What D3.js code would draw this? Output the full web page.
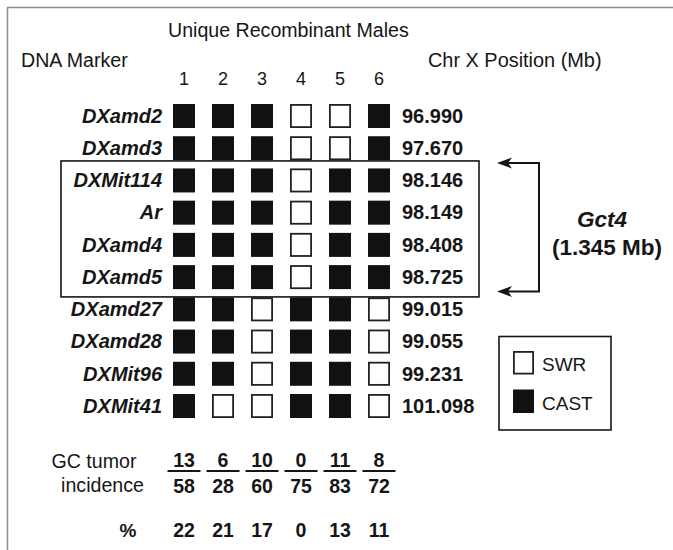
<!DOCTYPE html>
<html>
<head>
<meta charset="utf-8">
<script src="https://cdn.jsdelivr.net/npm/d3@7/dist/d3.min.js"></script>
<style>
  html, body { margin: 0; padding: 0; background: #fff; }
  svg { display: block; font-family: "Liberation Sans", Arial, Helvetica, sans-serif; }
</style>
</head>
<body>
<svg id="chart" width="673" height="550"></svg>
<script>
// ---------------- data ----------------
const males = ["1", "2", "3", "4", "5", "6"];
const markers = ["DXamd2", "DXamd3", "DXMit114", "Ar", "DXamd4", "DXamd5",
                 "DXamd27", "DXamd28", "DXMit96", "DXMit41"];
const positions = ["96.990", "97.670", "98.146", "98.149", "98.408", "98.725",
                   "99.015", "99.055", "99.231", "101.098"];
// 1 = CAST (filled), 0 = SWR (open); one row per marker, one value per male
const genotypes = [
  [1, 1, 1, 0, 0, 1],
  [1, 1, 1, 0, 0, 1],
  [1, 1, 1, 0, 1, 1],
  [1, 1, 1, 0, 1, 1],
  [1, 1, 1, 0, 1, 1],
  [1, 1, 1, 0, 1, 1],
  [1, 1, 0, 1, 1, 0],
  [1, 1, 0, 1, 1, 0],
  [1, 1, 0, 1, 1, 0],
  [1, 0, 0, 1, 1, 0]
];
const tumors = [13, 6, 10, 0, 11, 8];
const totals = [58, 28, 60, 75, 83, 72];
const percents = [22, 21, 17, 0, 13, 11];
const legendItems = [{label: "SWR", value: 0}, {label: "CAST", value: 1}];
const intervalMarkers = ["DXMit114", "DXamd5"];
const intervalLabel = "Gct4";
const intervalSize = "(1.345 Mb)";

// ---------------- layout ----------------
const svg = d3.select("#chart");
const ink = "#161616";
const x = d3.scalePoint().domain(males).range([184, 379]);
const y = d3.scalePoint().domain(markers).range([116, 406]);
const cellW = 22, cellH = 24;

// outer frame (top and left edges visible)
svg.append("path")
  .attr("d", "M7.5,550 V7.5 H673")
  .attr("fill", "none").attr("stroke", "#8c8c8c").attr("stroke-width", 1.5);

// headers
svg.append("text").attr("x", 168).attr("y", 36.5)
  .attr("font-size", 19.6).attr("fill", ink).text("Unique Recombinant Males");
svg.append("text").attr("x", 21).attr("y", 66.5)
  .attr("font-size", 19.6).attr("fill", ink).text("DNA Marker");
svg.append("text").attr("x", 428).attr("y", 66.5)
  .attr("font-size", 19.9).attr("fill", ink).text("Chr X Position (Mb)");

// column numbers
svg.append("g").selectAll("text").data(males).join("text")
  .attr("x", d => x(d)).attr("y", 84.5)
  .attr("text-anchor", "middle").attr("font-size", 18).attr("fill", ink)
  .text(d => d);

// marker labels
svg.append("g").selectAll("text").data(markers).join("text")
  .attr("x", 162).attr("y", d => y(d) + 6.8)
  .attr("text-anchor", "end").attr("font-size", 20)
  .attr("font-weight", "bold").attr("font-style", "italic").attr("fill", ink)
  .text(d => d);

// positions
svg.append("g").selectAll("text").data(positions).join("text")
  .attr("x", 402).attr("y", (d, i) => y(markers[i]) + 6.8)
  .attr("font-size", 20).attr("font-weight", "bold").attr("fill", ink)
  .text(d => d);

// genotype cells
const cells = [];
genotypes.forEach((row, i) => row.forEach((v, j) => cells.push({m: markers[i], c: males[j], v})));
svg.append("g").selectAll("rect").data(cells).join("rect")
  .attr("x", d => x(d.c) - cellW / 2 + (d.v ? 0 : 0.9))
  .attr("y", d => y(d.m) - cellH / 2 + (d.v ? 0 : 0.9))
  .attr("width", d => d.v ? cellW : cellW - 1.8)
  .attr("height", d => d.v ? cellH : cellH - 1.8)
  .attr("fill", d => d.v ? "#111" : "#fff")
  .attr("stroke", d => d.v ? "none" : "#222")
  .attr("stroke-width", 1.8);

// interval box
const boxTop = y(intervalMarkers[0]) - 19.5;
const boxBot = y(intervalMarkers[1]) + 19.8;
svg.append("rect")
  .attr("x", 61).attr("y", boxTop).attr("width", 418).attr("height", boxBot - boxTop)
  .attr("fill", "none").attr("stroke", ink).attr("stroke-width", 1.6);

// bracket with arrows
const bTop = boxTop + 2, bBot = boxBot - 5.5, bx = 539, tipX = 497;
svg.append("path")
  .attr("d", `M${tipX + 8},${bTop} H${bx} V${bBot} H${tipX + 8}`)
  .attr("fill", "none").attr("stroke", ink).attr("stroke-width", 2);
[bTop, bBot].forEach(yy => {
  svg.append("path")
    .attr("d", `M${tipX},${yy} L${tipX + 15},${yy - 5.5} L${tipX + 11},${yy} L${tipX + 15},${yy + 5.5} Z`)
    .attr("fill", ink);
});

svg.append("text").attr("x", 602).attr("y", 227)
  .attr("text-anchor", "middle").attr("font-size", 22.5)
  .attr("font-weight", "bold").attr("font-style", "italic").attr("fill", ink)
  .text(intervalLabel);
svg.append("text").attr("x", 607).attr("y", 254.5)
  .attr("text-anchor", "middle").attr("font-size", 22.5)
  .attr("font-weight", "bold").attr("fill", ink)
  .text(intervalSize);

// legend
svg.append("rect").attr("x", 499).attr("y", 336.5).attr("width", 112).attr("height", 93.5)
  .attr("fill", "none").attr("stroke", ink).attr("stroke-width", 1.6);
const lg = svg.append("g").selectAll("g").data(legendItems).join("g")
  .attr("transform", (d, i) => `translate(513, ${351 + i * 38.5})`);
lg.append("rect")
  .attr("x", d => d.value ? 0 : 0.9).attr("y", d => d.value ? 0 : 0.9)
  .attr("width", d => d.value ? 21 : 19.2).attr("height", d => d.value ? 23.5 : 21.7)
  .attr("fill", d => d.value ? "#111" : "#fff")
  .attr("stroke", d => d.value ? "none" : "#222").attr("stroke-width", 1.8);
lg.append("text").attr("x", 29).attr("y", 20)
  .attr("font-size", 19).attr("fill", ink).text(d => d.label);

// tumor incidence
svg.append("text").attr("x", 94).attr("y", 468).attr("text-anchor", "middle")
  .attr("font-size", 19.6).attr("fill", ink).text("GC tumor");
svg.append("text").attr("x", 102.5).attr("y", 492).attr("text-anchor", "middle")
  .attr("font-size", 19.6).attr("fill", ink).text("incidence");
svg.append("text").attr("x", 128).attr("y", 536.5).attr("text-anchor", "middle")
  .attr("font-size", 19).attr("font-weight", "bold").attr("fill", ink).text("%");

const inc = svg.append("g").selectAll("g").data(males).join("g")
  .attr("transform", d => `translate(${x(d)},0)`);
inc.append("text").attr("y", 466.5).attr("text-anchor", "middle")
  .attr("font-size", 19.5).attr("font-weight", "bold").attr("fill", ink)
  .text((d, i) => tumors[i]);
inc.append("line").attr("x1", -16.5).attr("x2", 16.5).attr("y1", 471).attr("y2", 471)
  .attr("stroke", ink).attr("stroke-width", 2);
inc.append("text").attr("y", 492.5).attr("text-anchor", "middle")
  .attr("font-size", 19.5).attr("font-weight", "bold").attr("fill", ink)
  .text((d, i) => totals[i]);
inc.append("text").attr("y", 536.5).attr("text-anchor", "middle")
  .attr("font-size", 19.5).attr("font-weight", "bold").attr("fill", ink)
  .text((d, i) => percents[i]);
</script>
</body>
</html>
